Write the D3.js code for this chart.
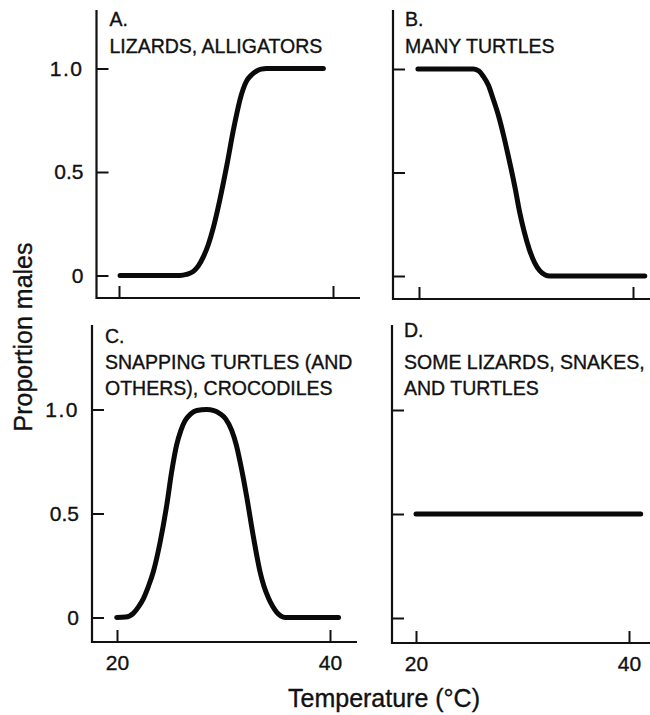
<!DOCTYPE html>
<html>
<head>
<meta charset="utf-8">
<script src="https://cdn.jsdelivr.net/npm/d3@7"></script>
<style>
  html, body { margin: 0; padding: 0; background: #fff; }
  svg { display: block; font-family: "Liberation Sans", Arial, Helvetica, sans-serif; }
  text { fill: #111; stroke: #111; stroke-width: 0.35px; }
  .axis text { font-size: 21px; }
  .axis line { stroke: #111; stroke-width: 2px; }
  .caption { font-size: 19.5px; }
  .title { font-size: 25px; }
</style>
</head>
<body>
<script>
// Proportion of males hatched at each incubation temperature (°C)
const tempA = [20.1, 25.7, 26.3, 26.95, 27.4, 27.88, 28.35, 28.81, 29.44, 30.07, 30.68, 31.0, 31.31, 31.6, 31.93, 32.4, 32.87, 33.3, 33.8, 39.1];
const maleA = [0, 0, 0.005, 0.02, 0.045, 0.09, 0.15, 0.23, 0.37, 0.53, 0.7, 0.78, 0.85, 0.9, 0.94, 0.97, 0.988, 0.997, 1.0, 1.0];

const tempB = [19.9, 25.1, 25.6, 26.0, 26.5, 26.9, 27.4, 27.9, 28.3, 28.6, 29.0, 29.4, 29.8, 30.3, 30.8, 31.3, 31.8, 32.2, 41.1];
const maleB = [1.0, 1.0, 0.99, 0.965, 0.92, 0.86, 0.78, 0.68, 0.59, 0.52, 0.42, 0.31, 0.22, 0.13, 0.065, 0.025, 0.005, 0, 0];

const tempC = [19.97, 20.8, 21.53, 22.0, 22.47, 22.95, 23.41, 24.04, 24.67, 25.13, 25.6, 26.0, 26.38, 26.9, 27.48, 28.42,
               29.1, 29.67, 30.2, 30.77, 31.2, 31.55, 31.9, 32.18, 32.8, 33.43, 33.8, 34.21, 34.6, 35.0, 35.4, 35.8, 40.8];
const maleC = [0, 0.002, 0.02, 0.05, 0.09, 0.15, 0.22, 0.36, 0.54, 0.7, 0.83, 0.9, 0.945, 0.978, 0.995, 1.0,
               0.995, 0.98, 0.955, 0.9, 0.83, 0.75, 0.66, 0.58, 0.39, 0.22, 0.15, 0.095, 0.055, 0.025, 0.007, 0, 0];

const tempD = [20.0, 41.1];
const maleD = [0.5, 0.5];

const yTicks = [0, 0.5, 1.0];
const yTickLabels = ["0", "0.5", "1.0"];
const xTicks = [20, 40];
const xTickLabels = ["20", "40"];

const panelLetters = ["A.", "B.", "C.", "D."];
const panelCaptions = [
  ["LIZARDS, ALLIGATORS"],
  ["MANY TURTLES"],
  ["SNAPPING TURTLES (AND", "OTHERS), CROCODILES"],
  ["SOME LIZARDS, SNAKES,", "AND TURTLES"]
];
const series = [[tempA, maleA], [tempB, maleB], [tempC, maleC], [tempD, maleD]];

const xTitle = "Temperature (°C)";
const yTitle = "Proportion males";

// Panel frames: axis extents and pixel positions of the 20/40 °C and 0/1 reference values
const frames = [
  { left: 96.5, right: 360, top: 10,  bottom: 298, x: [119, 333], y: [275.5, 68.5], yLabels: true,  xLabels: false },
  { left: 393,  right: 650, top: 10,  bottom: 299, x: [419, 633], y: [276, 69],     yLabels: false, xLabels: false },
  { left: 92,   right: 357, top: 325, bottom: 642, x: [117, 330], y: [617.5, 409.5], yLabels: true, xLabels: true },
  { left: 392,  right: 650, top: 325, bottom: 643, x: [416, 629], y: [618, 410],    yLabels: false, xLabels: true }
];
const captionOffsets = [
  { letter: 26, first: 53 },
  { letter: 26, first: 53 },
  { letter: 343, first: 369 },
  { letter: 337, first: 369 }
];

const width = 650, height = 715;
const svg = d3.select("body").append("svg")
  .attr("width", width).attr("height", height);

frames.forEach((f, i) => {
  const x = d3.scaleLinear().domain(xTicks).range(f.x);
  const y = d3.scaleLinear().domain([0, 1]).range(f.y);
  const g = svg.append("g");

  // Axis spines
  g.append("path")
    .attr("d", `M${f.left},${f.top}V${f.bottom}H${f.right}`)
    .attr("fill", "none").attr("stroke", "#111").attr("stroke-width", 2.2);

  // Y axis ticks (inward)
  const yAxis = d3.axisLeft(y).tickValues(yTicks).tickSize(-12).tickPadding(13)
    .tickFormat((d, k) => f.yLabels ? yTickLabels[k] : "");
  g.append("g").attr("class", "axis")
    .attr("transform", `translate(${f.left},0)`)
    .call(yAxis)
    .call(s => s.select(".domain").remove())
    .call(s => s.selectAll("text").attr("letter-spacing", d => d === 1 ? 1.5 : 0));

  // X axis ticks (inward)
  const xAxis = d3.axisBottom(x).tickValues(xTicks).tickSize(-12).tickPadding(13)
    .tickFormat((d, k) => f.xLabels ? xTickLabels[k] : "");
  g.append("g").attr("class", "axis")
    .attr("transform", `translate(0,${f.bottom})`)
    .call(xAxis)
    .call(s => s.select(".domain").remove());

  // Curve
  const [ts, ps] = series[i];
  const line = d3.line()
    .x((d, k) => x(ts[k]))
    .y(d => y(d))
    .curve(d3.curveMonotoneX);
  g.append("path")
    .attr("d", line(ps))
    .attr("fill", "none")
    .attr("stroke", "#0a0a0a")
    .attr("stroke-width", 5)
    .attr("stroke-linecap", "round")
    .attr("stroke-linejoin", "round");

  // Panel letter and caption
  const tx = f.left + (i % 2 === 0 ? 13 : 12);
  g.append("text").attr("class", "caption")
    .attr("x", tx).attr("y", captionOffsets[i].letter)
    .text(panelLetters[i]);
  panelCaptions[i].forEach((c, k) => {
    g.append("text").attr("class", "caption")
      .attr("x", tx).attr("y", captionOffsets[i].first + k * 26)
      .text(c);
  });
});

// Shared axis titles
svg.append("text").attr("class", "title")
  .attr("text-anchor", "middle")
  .attr("transform", "translate(32,337) rotate(-90)")
  .text(yTitle);

svg.append("text").attr("class", "title")
  .attr("text-anchor", "middle")
  .attr("x", 384).attr("y", 707)
  .text(xTitle);
</script>
</body>
</html>
